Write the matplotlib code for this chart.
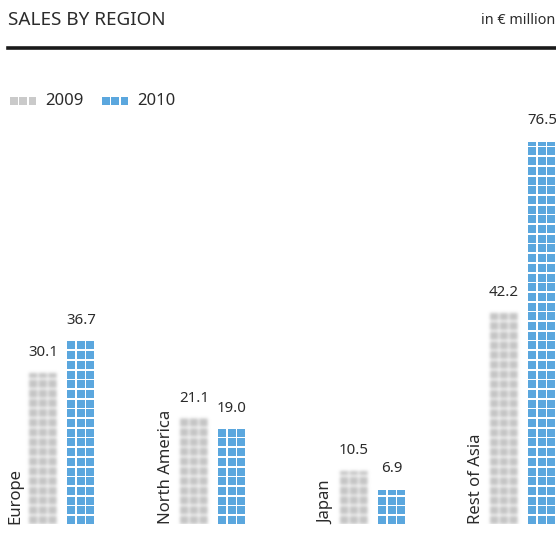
import numpy as np
import matplotlib.pyplot as plt
from matplotlib.patches import Rectangle

plt.rcParams['font.family'] = ['Noto Sans', 'DejaVu Sans']

# data
regions = ['Europe', 'North America', 'Japan', 'Rest of Asia']
years = ['2009', '2010']
sales_2009 = [30.1, 21.1, 10.5, 42.2]
sales_2010 = [36.7, 19.0, 6.9, 76.5]

grey = '#cacaca'
blue = '#5ba7de'
txt = '#2b2b2b'

W, H = 556, 555
fig = plt.figure(figsize=(W / 100, H / 100), dpi=100)

# header
fig.text(8 / W, 1 - 20 / H, 'SALES BY REGION', fontsize=13.6, color=txt, va='center', ha='left')
fig.text(1 - 1 / W, 1 - 20 / H, 'in € million', fontsize=10.3, color=txt, va='center', ha='right')
fig.add_artist(plt.Line2D([8 / W, 1], [1 - 48 / H, 1 - 48 / H], color='#1a1a1a', lw=2.6,
                          transform=fig.transFigure))

# bar area: 0 at pixel row 524, 5 px per million
base_px = 31
top_px = 495
px_per_unit = 5.0
ax = fig.add_axes([0, base_px / H, 1, (top_px - base_px) / H])
ax.axis('off')

group_left = [29, 180, 340, 490]
bar_gap = 38
col_pitch = 9.5
col_w = 8.2
row_pitch_px = 9.7
row_h_px = 8.0
row_pitch = row_pitch_px / px_per_unit
row_h = row_h_px / px_per_unit


def waffle_bar(x0, value):
    k = 0
    while k * row_pitch < value - 0.3:
        y0 = k * row_pitch
        h = min(row_h, value - y0)
        for c in range(3):
            ax.add_patch(Rectangle((x0 + c * col_pitch, y0), col_w, h, color=blue, lw=0))
        k += 1


def blurred_bar(x0, value, pad=4, ss=4, sigma=1.5):
    # rasterise the squares at pixel scale, then blur them
    hpx = value * px_per_unit
    wpx = 3 * col_pitch
    nx = int(round((wpx + 2 * pad) * ss))
    ny = int(round((hpx + 2 * pad) * ss))
    xs = (np.arange(nx) + 0.5) / ss - pad
    ys = (np.arange(ny) + 0.5) / ss - pad
    inx = (xs >= 0) & (xs < wpx) & ((xs % col_pitch) < col_w)
    iny = (ys >= 0) & (ys < hpx) & ((ys % row_pitch_px) < row_h_px)
    mask = (iny[:, None] & inx[None, :]).astype(float)
    r = int(3 * sigma * ss)
    t = np.arange(-r, r + 1) / ss
    kern = np.exp(-t ** 2 / (2 * sigma ** 2))
    kern /= kern.sum()
    mask = np.apply_along_axis(lambda v: np.convolve(v, kern, mode='same'), 0, mask)
    mask = np.apply_along_axis(lambda v: np.convolve(v, kern, mode='same'), 1, mask)
    rgba = np.zeros((ny, nx, 4))
    rgba[..., :3] = 0.72
    rgba[..., 3] = np.clip(mask * 0.82, 0, 1)
    ax.imshow(rgba[::-1], extent=(x0 - pad, x0 + wpx + pad, -pad / px_per_unit,
                                  value + pad / px_per_unit),
              aspect='auto', interpolation='bilinear', zorder=1)


for i, region in enumerate(regions):
    xg = group_left[i]
    xb = xg + bar_gap
    blurred_bar(xg, sales_2009[i])
    waffle_bar(xb, sales_2010[i])
    ax.text(xg + 14, sales_2009[i] + 13 / px_per_unit, f'{sales_2009[i]:.1f}', ha='center',
            va='bottom', fontsize=10.8, color=txt)
    ax.text(xb + 14, sales_2010[i] + 13 / px_per_unit, f'{sales_2010[i]:.1f}', ha='center',
            va='bottom', fontsize=10.8, color=txt)
    ax.text(xg - 14, 0, region, rotation=90, ha='center', va='bottom', fontsize=12, color=txt)

ax.set_xlim(0, W)
ax.set_ylim(0, (top_px - base_px) / px_per_unit)

# legend
leg_y = 1 - 101 / H
for j, (lx, col) in enumerate([(10, grey), (102, blue)]):
    for c in range(3):
        fig.add_artist(Rectangle(((lx + c * 9.3) / W, leg_y - 4 / H), 7.6 / W, 8 / H,
                                 color=col, lw=0, transform=fig.transFigure))
    fig.text((lx + 35) / W, leg_y, years[j], fontsize=12, color=txt, va='center', ha='left')

fig.savefig('out.png', dpi=100)
